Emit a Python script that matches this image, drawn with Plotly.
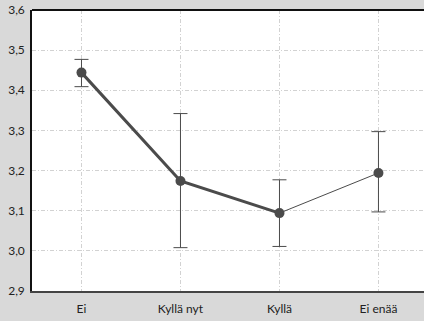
import plotly.graph_objects as go

categories = ["Ei", "Kyllä nyt", "Kyllä", "Ei enää"]
means = [3.444, 3.174, 3.094, 3.194]
upper = [3.477, 3.342, 3.177, 3.297]
lower = [3.409, 3.008, 3.011, 3.097]

err_plus = [u - m for u, m in zip(upper, means)]
err_minus = [m - l for m, l in zip(means, lower)]

x_idx = list(range(len(categories)))
dark = "#4b4b4b"
grid = "#d2d2d2"

fig = go.Figure()

# thick connecting line over the first three groups
fig.add_trace(go.Scatter(
    x=x_idx[:3], y=means[:3], mode="lines",
    line=dict(color=dark, width=3), hoverinfo="skip", showlegend=False,
))
# thin connecting line to the last group
fig.add_trace(go.Scatter(
    x=x_idx[2:], y=means[2:], mode="lines",
    line=dict(color=dark, width=1), hoverinfo="skip", showlegend=False,
))
# means with error bars
fig.add_trace(go.Scatter(
    x=x_idx, y=means, mode="markers",
    marker=dict(color=dark, size=10, symbol="circle"),
    error_y=dict(type="data", symmetric=False, array=err_plus, arrayminus=err_minus,
                 color=dark, thickness=1, width=7),
    showlegend=False,
))

fig.update_layout(
    width=424, height=321,
    margin=dict(l=32, r=0, t=10, b=30),
    paper_bgcolor="#d9d9d9",
    plot_bgcolor="#ffffff",
    separators=", ",
    font=dict(family="Lato", size=12, color="#222222"),
)
fig.update_xaxes(
    tickmode="array", tickvals=x_idx, ticktext=categories,
    range=[-0.5, 3.46],
    showgrid=True, gridcolor=grid, griddash="4px,2px,1px,2px", gridwidth=1,
    showline=True, linecolor="#444444", linewidth=2,
    ticks="outside", ticklen=6, tickcolor="rgba(0,0,0,0)",
    zeroline=False,
)
fig.update_yaxes(
    range=[2.9, 3.6], tickvals=[2.9, 3.0, 3.1, 3.2, 3.3, 3.4, 3.5, 3.6],
    tickformat=".1f",
    showgrid=True, gridcolor=grid, griddash="4px,2px,1px,2px", gridwidth=1,
    showline=True, linecolor="#111111", linewidth=1.5,
    ticks="outside", ticklen=3, tickcolor="rgba(0,0,0,0)",
    zeroline=False,
)
# top border of the plotting area
fig.add_shape(type="line", xref="paper", yref="paper", x0=0, x1=1, y0=1, y1=1,
              line=dict(color="#111111", width=2))

fig.write_html("out.html")
